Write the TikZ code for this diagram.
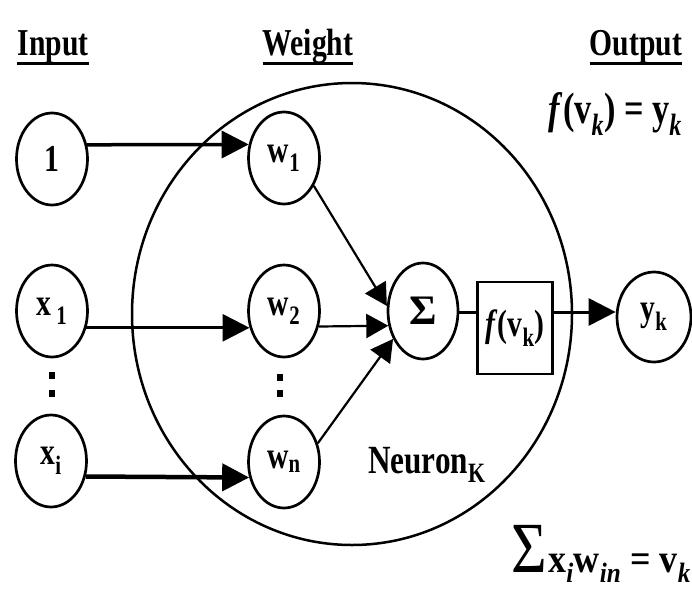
\documentclass[tikz,border=0pt]{standalone}
\usepackage{fontspec}
\setmainfont{Liberation Serif}
\usetikzlibrary{shapes.geometric,arrows.meta,calc}
\newcommand\cz[1]{\scalebox{0.78}[1]{#1}}
\newcommand\fs[1]{\fontsize{#1}{#1}\selectfont}
\begin{document}
\begin{tikzpicture}[x=1pt,y=-1pt,
  oval/.style={ellipse,draw,line width=2.7pt,inner sep=0pt,minimum width=71pt,minimum height=92pt,font=\fs{38}\bfseries},
  arr/.style={-{Triangle[length=27pt,width=27pt]},line width=3pt},
  sarr/.style={-{Triangle[length=22pt,width=24pt]},line width=2.2pt},
  ttl/.style={font=\fs{38}\bfseries,inner sep=0pt,anchor=base},
  uline/.style={line width=3pt},
  dotmark/.style={rectangle,fill=black,inner sep=0pt,minimum width=6pt,minimum height=7pt}]
\path[use as bounding box] (0,0) rectangle (692,589);

% titles
\node[ttl] (tin) at (53,55) {\cz{Input}};
\node[ttl] (twt) at (308,55) {\cz{Weight}};
\node[ttl] (tout) at (636,55) {\cz{Output}};
\draw[uline] ([yshift=-8pt]tin.base west) -- ([yshift=-8pt]tin.base east);
\draw[uline] ([yshift=-8pt]twt.base west) -- ([yshift=-8pt]twt.base east);
\draw[uline] ([yshift=-8pt]tout.base west) -- ([yshift=-8pt]tout.base east);

% neuron circle
\node[ellipse,draw,line width=2.5pt,minimum width=440pt,minimum height=462pt,inner sep=0pt] (big) at (352,314) {};

% input nodes
\node[oval] (n1) at (52,159) {\cz{1}};
\node[oval] (x1) at (52,311) {\cz{x\,\textsubscript{1}}};
\node[oval] (xi) at (51,461) {\cz{x\textsubscript{i}}};
\node[dotmark] (d1) at (52,375) {};
\node[dotmark] (d2) at (52,393) {};

% weight nodes
\node[oval] (w1) at (284,158) {\cz{w\textsubscript{1}}};
\node[oval] (w2) at (284,311) {\cz{w\textsubscript{2}}};
\node[oval] (wn) at (284,462) {\cz{w\textsubscript{n}}};
\node[dotmark] (d3) at (280,377) {};
\node[dotmark] (d4) at (280,393) {};

% sum, activation, output
\node[oval,minimum width=70pt,minimum height=96pt,font=\fs{42}\bfseries] (sig) at (423,311) {Σ};
\node[draw,rectangle,line width=2.5pt,minimum width=75pt,minimum height=92pt,inner sep=0pt,font=\fs{38}\bfseries] (box) at (515,328) {\cz{\textit{f}(v\textsubscript{k})}};
\node[oval,minimum width=74pt,minimum height=90pt] (yk) at (654,317) {\cz{y\textsubscript{k}}};

% connectors
\draw[arr,line width=3.5pt] (n1.22) -- (w1.159);
\draw[arr] (x1.-26) -- (w2.206);
\draw[arr,line width=4.5pt] (xi.-24) -- (wn.204);
\draw[sarr] (w1.-43) -- (sig.172);
\draw[sarr] (w2.-24) -- (sig.203);
\draw[sarr] (wn.29) -- (sig.223);
\draw[line width=3pt] (sig.east |- 0,312) -- (box.west |- 0,312);
\draw[arr] (box.east |- 0,312) -- (yk.west |- 0,312);

% labels
\node[anchor=base west,inner sep=0pt] (neu) at (368,473) {\fs{40}\bfseries\cz{Neuron\textsubscript{K}}};
\node[anchor=base east,inner sep=0pt] (ftop) at (682,123) {\fs{44}\bfseries\cz{\textit{f}(v\textsubscript{\textit{k}}) = y\textsubscript{\textit{k}}}};
\node[anchor=base east,inner sep=0pt] (fbot) at (691,572) {{\fs{72}\scalebox{0.85}[1]{Σ}}\,{\fs{40}\bfseries\scalebox{0.9}[1]{x\textsubscript{\textit{i}}w\textsubscript{\textit{in}} = v\textsubscript{\textit{k}}}}};
\end{tikzpicture}
\end{document}
